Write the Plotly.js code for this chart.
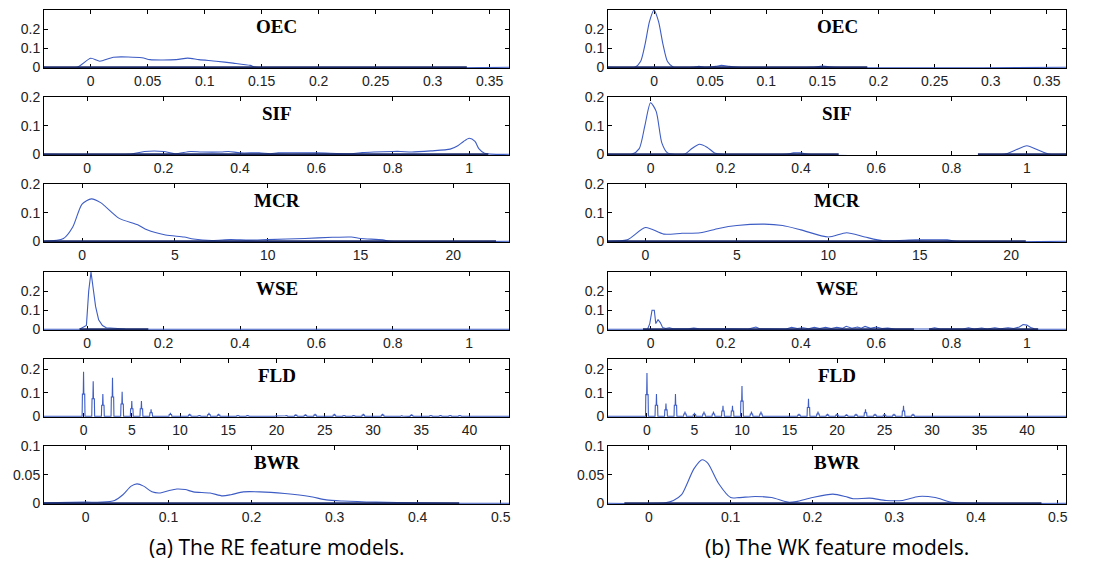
<!DOCTYPE html>
<html><head><meta charset="utf-8">
<script src="https://cdn.plot.ly/plotly-3.0.1.min.js"></script>
<style>html,body{margin:0;padding:0;background:#fff}#chart{width:1107px;height:562px}</style>
</head><body><div id="chart"></div>
<script>
// ---------- labels ----------
const featureNames = ['OEC','SIF','MCR','WSE','FLD','BWR'];
const captions = ['(a) The RE feature models.','(b) The WK feature models.'];

// ---------- axis limits and ticks (per feature row) ----------
const xRanges = [[-0.041,0.367],[-0.113,1.104],[-2.05,23.0],[-0.113,1.104],[-4.1,44.1],[-0.05,0.51]];
const yMax    = [0.3, 0.2, 0.2, 0.3, 0.245, 0.1];
const xTickText = [
  ['0','0.05','0.1','0.15','0.2','0.25','0.3','0.35'],
  ['0','0.2','0.4','0.6','0.8','1'],
  ['0','5','10','15','20'],
  ['0','0.2','0.4','0.6','0.8','1'],
  ['0','5','10','15','20','25','30','35','40'],
  ['0','0.1','0.2','0.3','0.4','0.5']
];
const yTickText = [
  ['0','0.1','0.2'],['0','0.1','0.2'],['0','0.1','0.2'],
  ['0','0.1','0.2'],['0','0.1','0.2'],['0','0.05','0.1']
];

// ---------- RE feature models ----------
const oecRE_x = [-0.041,-0.012,0,0.008,0.02,0.045,0.052,0.075,0.085,0.095,0.11,0.125,0.14,0.145,0.367];
const oecRE_y = [0,0,0.047,0.032,0.053,0.05,0.04,0.04,0.048,0.04,0.032,0.022,0.01,0,0];
const sifRE_x = [-0.113,0.11,0.15,0.2,0.23,0.27,0.3,0.35,0.37,0.4,0.45,0.48,0.5,0.6,0.69,0.72,0.75,0.8,0.82,0.85,0.9,0.95,0.97,0.985,1.0,1.015,1.025,1.04,1.104];
const sifRE_y = [0,0,0.01,0.01,0.002,0.01,0.008,0.008,0.01,0.005,0.005,0.002,0.005,0.005,0.002,0.006,0.008,0.01,0.01,0.008,0.012,0.018,0.03,0.045,0.056,0.045,0.02,0.004,0];
const mcrRE_x = [-2.05,-1.0,-0.5,0,0.5,1,2,3,3.5,4.5,5.5,6,7,8,9,10,12,13.5,14.5,15,16.2,16.6,23.0];
const mcrRE_y = [0,0.01,0.05,0.13,0.148,0.135,0.08,0.058,0.04,0.022,0.015,0.008,0.003,0.006,0.004,0.006,0.01,0.014,0.015,0.01,0.005,0,0];
const wseRE_x = [-0.113,-0.02,-0.002,0.004,0.01,0.016,0.022,0.03,0.04,0.05,0.07,0.1,0.16,1.104];
const wseRE_y = [0,0,0.02,0.2,0.3,0.22,0.12,0.05,0.02,0.008,0.005,0.002,0,0];
const fldRE_pos = [0,1,2,3,4,5,6,7,9,11,12,13,14,16,17,20,21,22,23,24,26,27,28,29,31,33,34,36,37,38,39];
const fldRE_h   = [0.19,0.15,0.095,0.165,0.105,0.065,0.065,0.03,0.015,0.01,0.005,0.015,0.01,0.005,0.005,0.003,0.005,0.008,0.008,0.01,0.01,0.005,0.005,0.01,0.01,0.003,0.008,0.005,0.005,0.005,0.005];
const bwrRE_x = [-0.05,0,0.02,0.035,0.045,0.055,0.062,0.07,0.08,0.09,0.1,0.11,0.12,0.13,0.15,0.165,0.175,0.19,0.21,0.24,0.27,0.29,0.31,0.35,0.4,0.45,0.51];
const bwrRE_y = [0.001,0.002,0.002,0.005,0.015,0.03,0.034,0.03,0.02,0.018,0.022,0.025,0.024,0.02,0.018,0.013,0.015,0.02,0.02,0.017,0.012,0.006,0.004,0.002,0.001,0,0];

// ---------- WK feature models ----------
const oecWK_x = [-0.041,-0.017,-0.012,-0.008,-0.004,0,0.004,0.008,0.012,0.017,0.035,0.04,0.045,0.055,0.06,0.067,0.075,0.14,0.15,0.16,0.367];
const oecWK_y = [0,0,0.03,0.12,0.24,0.3,0.24,0.12,0.03,0.002,0,0.005,0,0.005,0.01,0.005,0,0,0.006,0,0];
const sifWK_x = [-0.113,-0.05,-0.03,-0.015,0,0.015,0.03,0.045,0.06,0.09,0.11,0.13,0.15,0.17,0.19,0.36,0.38,0.4,0.42,0.94,0.97,1.0,1.03,1.06,1.104];
const sifWK_y = [0,0,0.02,0.1,0.18,0.15,0.04,0.005,0,0,0.02,0.035,0.025,0.005,0,0,0.005,0.005,0,0,0.015,0.03,0.015,0,0];
const mcrWK_x = [-2.05,-1,0,1,2,3,4,5,6.5,7.5,8.5,10,11,12,13,14.8,16.5,17,23.0];
const mcrWK_y = [0,0.005,0.048,0.025,0.028,0.03,0.045,0.055,0.06,0.055,0.04,0.015,0.03,0.015,0.002,0.005,0.005,0,0];
const wseWK_x = [-0.113,-0.008,-0.002,0.004,0.01,0.014,0.02,0.026,0.032,0.04,0.05,0.06,0.1,0.115,0.13,0.16,0.18,0.2,0.26,0.28,0.29,0.36,0.375,0.39,0.405,0.42,0.435,0.45,0.465,0.48,0.495,0.51,0.52,0.535,0.55,0.56,0.57,0.585,0.6,0.615,0.63,0.65,0.74,0.755,0.77,0.83,0.845,0.86,0.88,0.895,0.915,0.93,0.95,0.965,0.98,0.99,1.0,1.01,1.02,1.03,1.104];
const wseWK_y = [0,0,0.03,0.1,0.1,0.03,0.05,0.035,0.01,0.004,0.008,0.003,0.003,0.006,0.003,0.004,0.002,0.003,0.002,0.012,0.003,0.002,0.01,0.004,0.008,0.003,0.01,0.004,0.01,0.004,0.011,0.005,0.016,0.006,0.012,0.006,0.015,0.005,0.012,0.004,0.006,0.002,0.002,0.008,0.002,0.002,0.008,0.002,0.007,0.002,0.008,0.003,0.008,0.004,0.012,0.025,0.022,0.01,0.003,0,0];
const fldWK_pos = [0,1,2,3,4,5,6,7,8,9,10,11,12,16,17,18,19,20,21,22,23,24,25,26,27,28];
const fldWK_h   = [0.185,0.095,0.055,0.095,0.02,0.015,0.02,0.02,0.045,0.045,0.13,0.02,0.02,0.01,0.075,0.02,0.01,0.01,0.008,0.01,0.03,0.01,0.01,0.01,0.045,0.01];
const bwrWK_x = [-0.05,0.02,0.03,0.04,0.055,0.065,0.072,0.085,0.1,0.11,0.13,0.15,0.17,0.18,0.2,0.225,0.24,0.25,0.27,0.29,0.31,0.33,0.35,0.37,0.4,0.51];
const bwrWK_y = [0,0.001,0.005,0.015,0.06,0.076,0.07,0.035,0.01,0.01,0.012,0.01,0.002,0.003,0.01,0.016,0.012,0.008,0.009,0.005,0.005,0.012,0.01,0.002,0,0];

// dark baseline stretches (x intervals)
const darkRE = [[[-0.041,0.33]],[[-0.113,1.05]],[[-2.05,22.3]],[[-0.02,0.16]],[],[[-0.05,0.45]]];
const darkWK = [[[-0.041,0.19]],[[-0.113,0.5],[0.87,1.104]],[[-2.05,20.8]],[[-0.02,0.7],[0.74,1.03]],[],[[-0.03,0.48]]];

// which rows are smooth density curves (spline) vs. spiky
const smoothRow = [true,true,true,false,false,true];

// ---------- build ----------
function spikeCurve(pos, h, xr){
  const x=[xr[0]], y=[0];
  pos.forEach((p,i)=>{
    x.push(p-0.15,p-0.12,p-0.03,p,p+0.03,p+0.12,p+0.15);
    y.push(0,h[i]*0.5,h[i]*0.5,h[i],h[i]*0.5,h[i]*0.5,0);
  });
  x.push(xr[1]); y.push(0);
  return [x,y];
}
const curves = [
  [[oecRE_x,oecRE_y],[sifRE_x,sifRE_y],[mcrRE_x,mcrRE_y],[wseRE_x,wseRE_y],spikeCurve(fldRE_pos,fldRE_h,xRanges[4]),[bwrRE_x,bwrRE_y]],
  [[oecWK_x,oecWK_y],[sifWK_x,sifWK_y],[mcrWK_x,mcrWK_y],[wseWK_x,wseWK_y],spikeCurve(fldWK_pos,fldWK_h,xRanges[4]),[bwrWK_x,bwrWK_y]]
];
const darks = [darkRE, darkWK];

const W=1107,H=562;
const colPx = [[44,509],[608,1066]];
const rowTop = [10,97,184,272,359,446];
const rowH = 58;
const lineBlue = '#3d5cc4';
const darkNavy = '#1b2a66';

const data=[], layout={width:W,height:H,margin:{l:0,r:0,t:0,b:0},showlegend:false,
  paper_bgcolor:'#fff',plot_bgcolor:'#fff',annotations:[]};

for(let c=0;c<2;c++){
  for(let r=0;r<6;r++){
    const n=c*6+r+1, sx=n===1?'':String(n);
    const xa='x'+sx, ya='y'+sx;
    const yr=[-yMax[r]*0.012, yMax[r]];
    const ln={color:lineBlue,width:1.1};
    if(smoothRow[r]){ln.shape='spline';ln.smoothing=0.7;}
    data.push({x:curves[c][r][0],y:curves[c][r][1],xaxis:xa,yaxis:ya,type:'scatter',mode:'lines',
      line:ln,hoverinfo:'skip'});
    darks[c][r].forEach(seg=>{
      data.push({x:seg,y:[0,0],xaxis:xa,yaxis:ya,type:'scatter',mode:'lines',
        line:{color:darkNavy,width:2.2},hoverinfo:'skip'});
    });
    const common={showline:true,linecolor:'#000',linewidth:1,mirror:'ticks',ticks:'inside',ticklen:4,
      tickcolor:'#000',showgrid:false,zeroline:false,layer:'below traces',fixedrange:true,
      tickfont:{family:'Liberation Sans, Arial, sans-serif',size:14,color:'#222'}};
    layout['xaxis'+sx]=Object.assign({},common,{anchor:ya,domain:[colPx[c][0]/W,colPx[c][1]/W],
      range:xRanges[r],tickmode:'array',tickvals:xTickText[r].map(Number),ticktext:xTickText[r]});
    const top=rowTop[r], bot=rowTop[r]+rowH;
    layout['yaxis'+sx]=Object.assign({},common,{anchor:xa,domain:[1-bot/H,1-top/H],
      range:yr,tickmode:'array',tickvals:yTickText[r].map(Number),ticktext:yTickText[r]});
    layout.annotations.push({xref:xa+' domain',yref:ya+' domain',x:0.5,y:0.72,xanchor:'center',yanchor:'middle',
      text:'<b>'+featureNames[r]+'</b>',showarrow:false,
      font:{family:'Liberation Serif, Times New Roman, serif',size:19,color:'#000'}});
  }
  layout.annotations.push({xref:'paper',yref:'paper',x:((colPx[c][0]+colPx[c][1])/2)/W,y:1-547/H,
    xanchor:'center',yanchor:'middle',text:captions[c],showarrow:false,
    font:{family:'Open Sans, Noto Sans, sans-serif',size:21,color:'#000'}});
}
Plotly.newPlot('chart',data,layout,{staticPlot:true,displayModeBar:false});
</script></body></html>
